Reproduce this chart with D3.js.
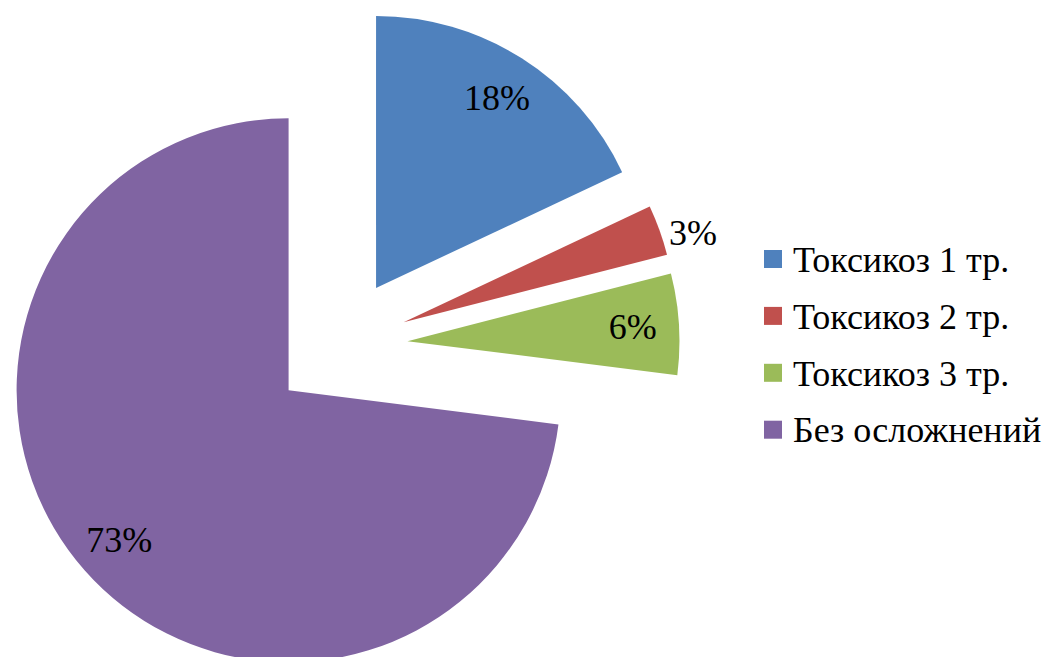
<!DOCTYPE html>
<html>
<head>
<meta charset="utf-8">
<script src="https://cdn.jsdelivr.net/npm/d3@7/dist/d3.min.js"></script>
<style>
  html, body { margin: 0; padding: 0; background: #fff; }
  svg { display: block; }
  svg text { font-family: "Liberation Serif", "DejaVu Serif", "Times New Roman", serif; }
</style>
</head>
<body>
<svg id="chart" width="1055" height="657"></svg>
<script>
// Pregnancy complications share
const categories = ["Токсикоз 1 тр.", "Токсикоз 2 тр.", "Токсикоз 3 тр.", "Без осложнений"];
const values = [18, 3, 6, 73];
const colors = ["#4F81BD", "#C0504D", "#9BBB59", "#8064A2"];

const width = 1055, height = 657;
const cx = 339.6, cy = 345.4;
const radius = 272;
const explode = 68;
const fontSize = 36;

const svg = d3.select("#chart");

const pie = d3.pie().sort(null).value(d => d.value);
const arcs = pie(values.map((v, i) => ({ value: v, name: categories[i], color: colors[i] })));
const arc = d3.arc().innerRadius(0).outerRadius(radius);
const total = d3.sum(values);

const g = svg.append("g").attr("transform", `translate(${cx},${cy})`);

// direction of a slice's bisector (0 rad = 12 o'clock, clockwise)
const mid = d => (d.startAngle + d.endAngle) / 2;
const dir = d => [Math.sin(mid(d)), -Math.cos(mid(d))];

const slices = g.selectAll("g.slice")
  .data(arcs)
  .enter().append("g")
  .attr("class", "slice")
  .attr("transform", d => {
    const [dx, dy] = dir(d);
    return `translate(${dx * explode},${dy * explode})`;
  });

slices.append("path")
  .attr("d", arc)
  .attr("fill", d => d.data.color);

// percentage labels: inside for large slices, just outside the rim for thin ones
const isThin = d => d.data.value / total < 0.05;
const labelR = d => (isThin(d) ? radius + 10 : radius * 0.83);
slices.append("text")
  .attr("x", d => dir(d)[0] * labelR(d))
  .attr("y", d => dir(d)[1] * labelR(d) + (isThin(d) ? 6 : 0))
  .attr("dy", "0.34em")
  .attr("text-anchor", d => (isThin(d) ? (dir(d)[0] >= 0 ? "start" : "end") : "middle"))
  .attr("font-size", fontSize)
  .attr("fill", "#000")
  .text(d => Math.round(d.data.value / total * 100) + "%");

// legend
const legend = svg.append("g").attr("transform", "translate(764,250)");
const rowH = 56.9;
const items = legend.selectAll("g.item")
  .data(categories)
  .enter().append("g")
  .attr("class", "item")
  .attr("transform", (d, i) => `translate(0,${i * rowH})`);

items.append("rect")
  .attr("width", 18)
  .attr("height", 18)
  .attr("fill", (d, i) => colors[i]);

items.append("text")
  .attr("x", 29)
  .attr("y", 21.7)
  .attr("font-size", fontSize)
  .attr("fill", "#000")
  .text(d => d);
</script>
</body>
</html>
